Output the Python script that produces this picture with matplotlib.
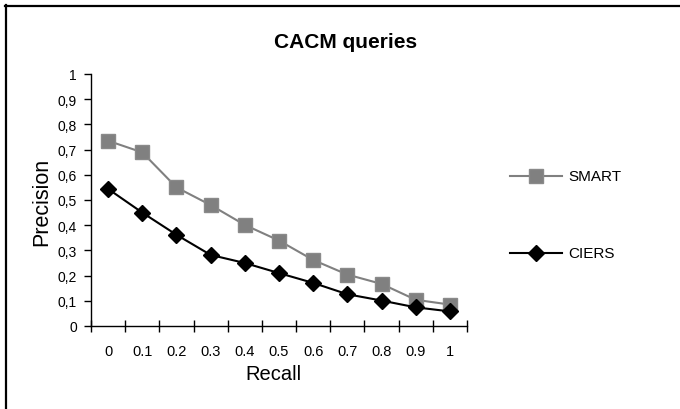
import matplotlib
matplotlib.use("Agg")
import matplotlib.pyplot as plt
from matplotlib.lines import Line2D

plt.rcParams['font.family'] = ['Liberation Sans', 'DejaVu Sans']

recall_labels = ["0", "0.1", "0.2", "0.3", "0.4", "0.5", "0.6", "0.7", "0.8", "0.9", "1"]
smart = [0.735, 0.689, 0.550, 0.480, 0.401, 0.339, 0.262, 0.204, 0.167, 0.104, 0.085]
ciers = [0.544, 0.450, 0.362, 0.282, 0.250, 0.210, 0.171, 0.126, 0.101, 0.074, 0.058]
y_ticks = [0, 0.1, 0.2, 0.3, 0.4, 0.5, 0.6, 0.7, 0.8, 0.9, 1]
y_tick_labels = ["0", "0,1", "0,2", "0,3", "0,4", "0,5", "0,6", "0,7", "0,8", "0,9", "1"]

W, H = 680, 410
fig = plt.figure(figsize=(W / 100, H / 100), dpi=100)

def fx(px):
    return px / W

def fy(py):
    return 1 - py / H

# outer frame (left and top)
fig.add_artist(Line2D([fx(6), fx(6)], [fy(6), 0], color='black', lw=1.6, transform=fig.transFigure))
fig.add_artist(Line2D([fx(5), 1], [fy(6.5), fy(6.5)], color='black', lw=1.6, transform=fig.transFigure))

ax = fig.add_axes([fx(91), fy(327), fx(467) - fx(91), fy(75) - fy(327)])

x = list(range(len(recall_labels)))
ax.plot(x, smart, color='#808080', lw=1.5, marker='s', ms=9.5, mfc='#808080', mec='#8a8a8a', label='SMART')
ax.plot(x, ciers, color='black', lw=1.5, marker='D', ms=8.5, mfc='black', mec='black', label='CIERS')

ax.set_xlim(-0.5, len(recall_labels) - 0.5)
ax.set_ylim(0, 1)

for s in ['top', 'right']:
    ax.spines[s].set_visible(False)
for s in ['left', 'bottom']:
    ax.spines[s].set_linewidth(1.0)
    ax.spines[s].set_color('black')

# x: boundaries as major ticks (crossing), labels at category centres
ax.set_xticks([i - 0.5 for i in range(len(recall_labels) + 1)])
ax.set_xticklabels([])
ax.set_xticks(x, minor=True)
ax.set_xticklabels(recall_labels, minor=True)
ax.tick_params(axis='x', which='major', direction='inout', length=9, width=1.0)
ax.tick_params(axis='x', which='minor', length=0, pad=13, labelsize=10.5)

ax.set_yticks(y_ticks)
ax.set_yticklabels(y_tick_labels)
ax.tick_params(axis='y', direction='out', length=5, width=1.0, pad=5, labelsize=10)

fig.text(fx(346), fy(42), "CACM queries", ha='center', va='center', fontsize=15, fontweight='bold')
fig.text(fx(42), fy(202), "Precision", ha='center', va='center', rotation=90, fontsize=15.5)
fig.text(fx(273), fy(375), "Recall", ha='center', va='center', fontsize=14.5)

# legend
fig.add_artist(Line2D([fx(510), fx(562)], [fy(177), fy(177)], color='#808080', lw=1.5, transform=fig.transFigure))
fig.add_artist(Line2D([fx(536)], [fy(177)], color='#808080', marker='s', ms=9.5, mfc='#808080', mec='#8a8a8a', transform=fig.transFigure))
fig.text(fx(568), fy(177), "SMART", ha='left', va='center', fontsize=11)
fig.add_artist(Line2D([fx(510), fx(562)], [fy(254), fy(254)], color='black', lw=1.5, transform=fig.transFigure))
fig.add_artist(Line2D([fx(536)], [fy(254)], color='black', marker='D', ms=8.5, mfc='black', mec='black', transform=fig.transFigure))
fig.text(fx(568), fy(254), "CIERS", ha='left', va='center', fontsize=11)

fig.savefig("out.png", dpi=100)
